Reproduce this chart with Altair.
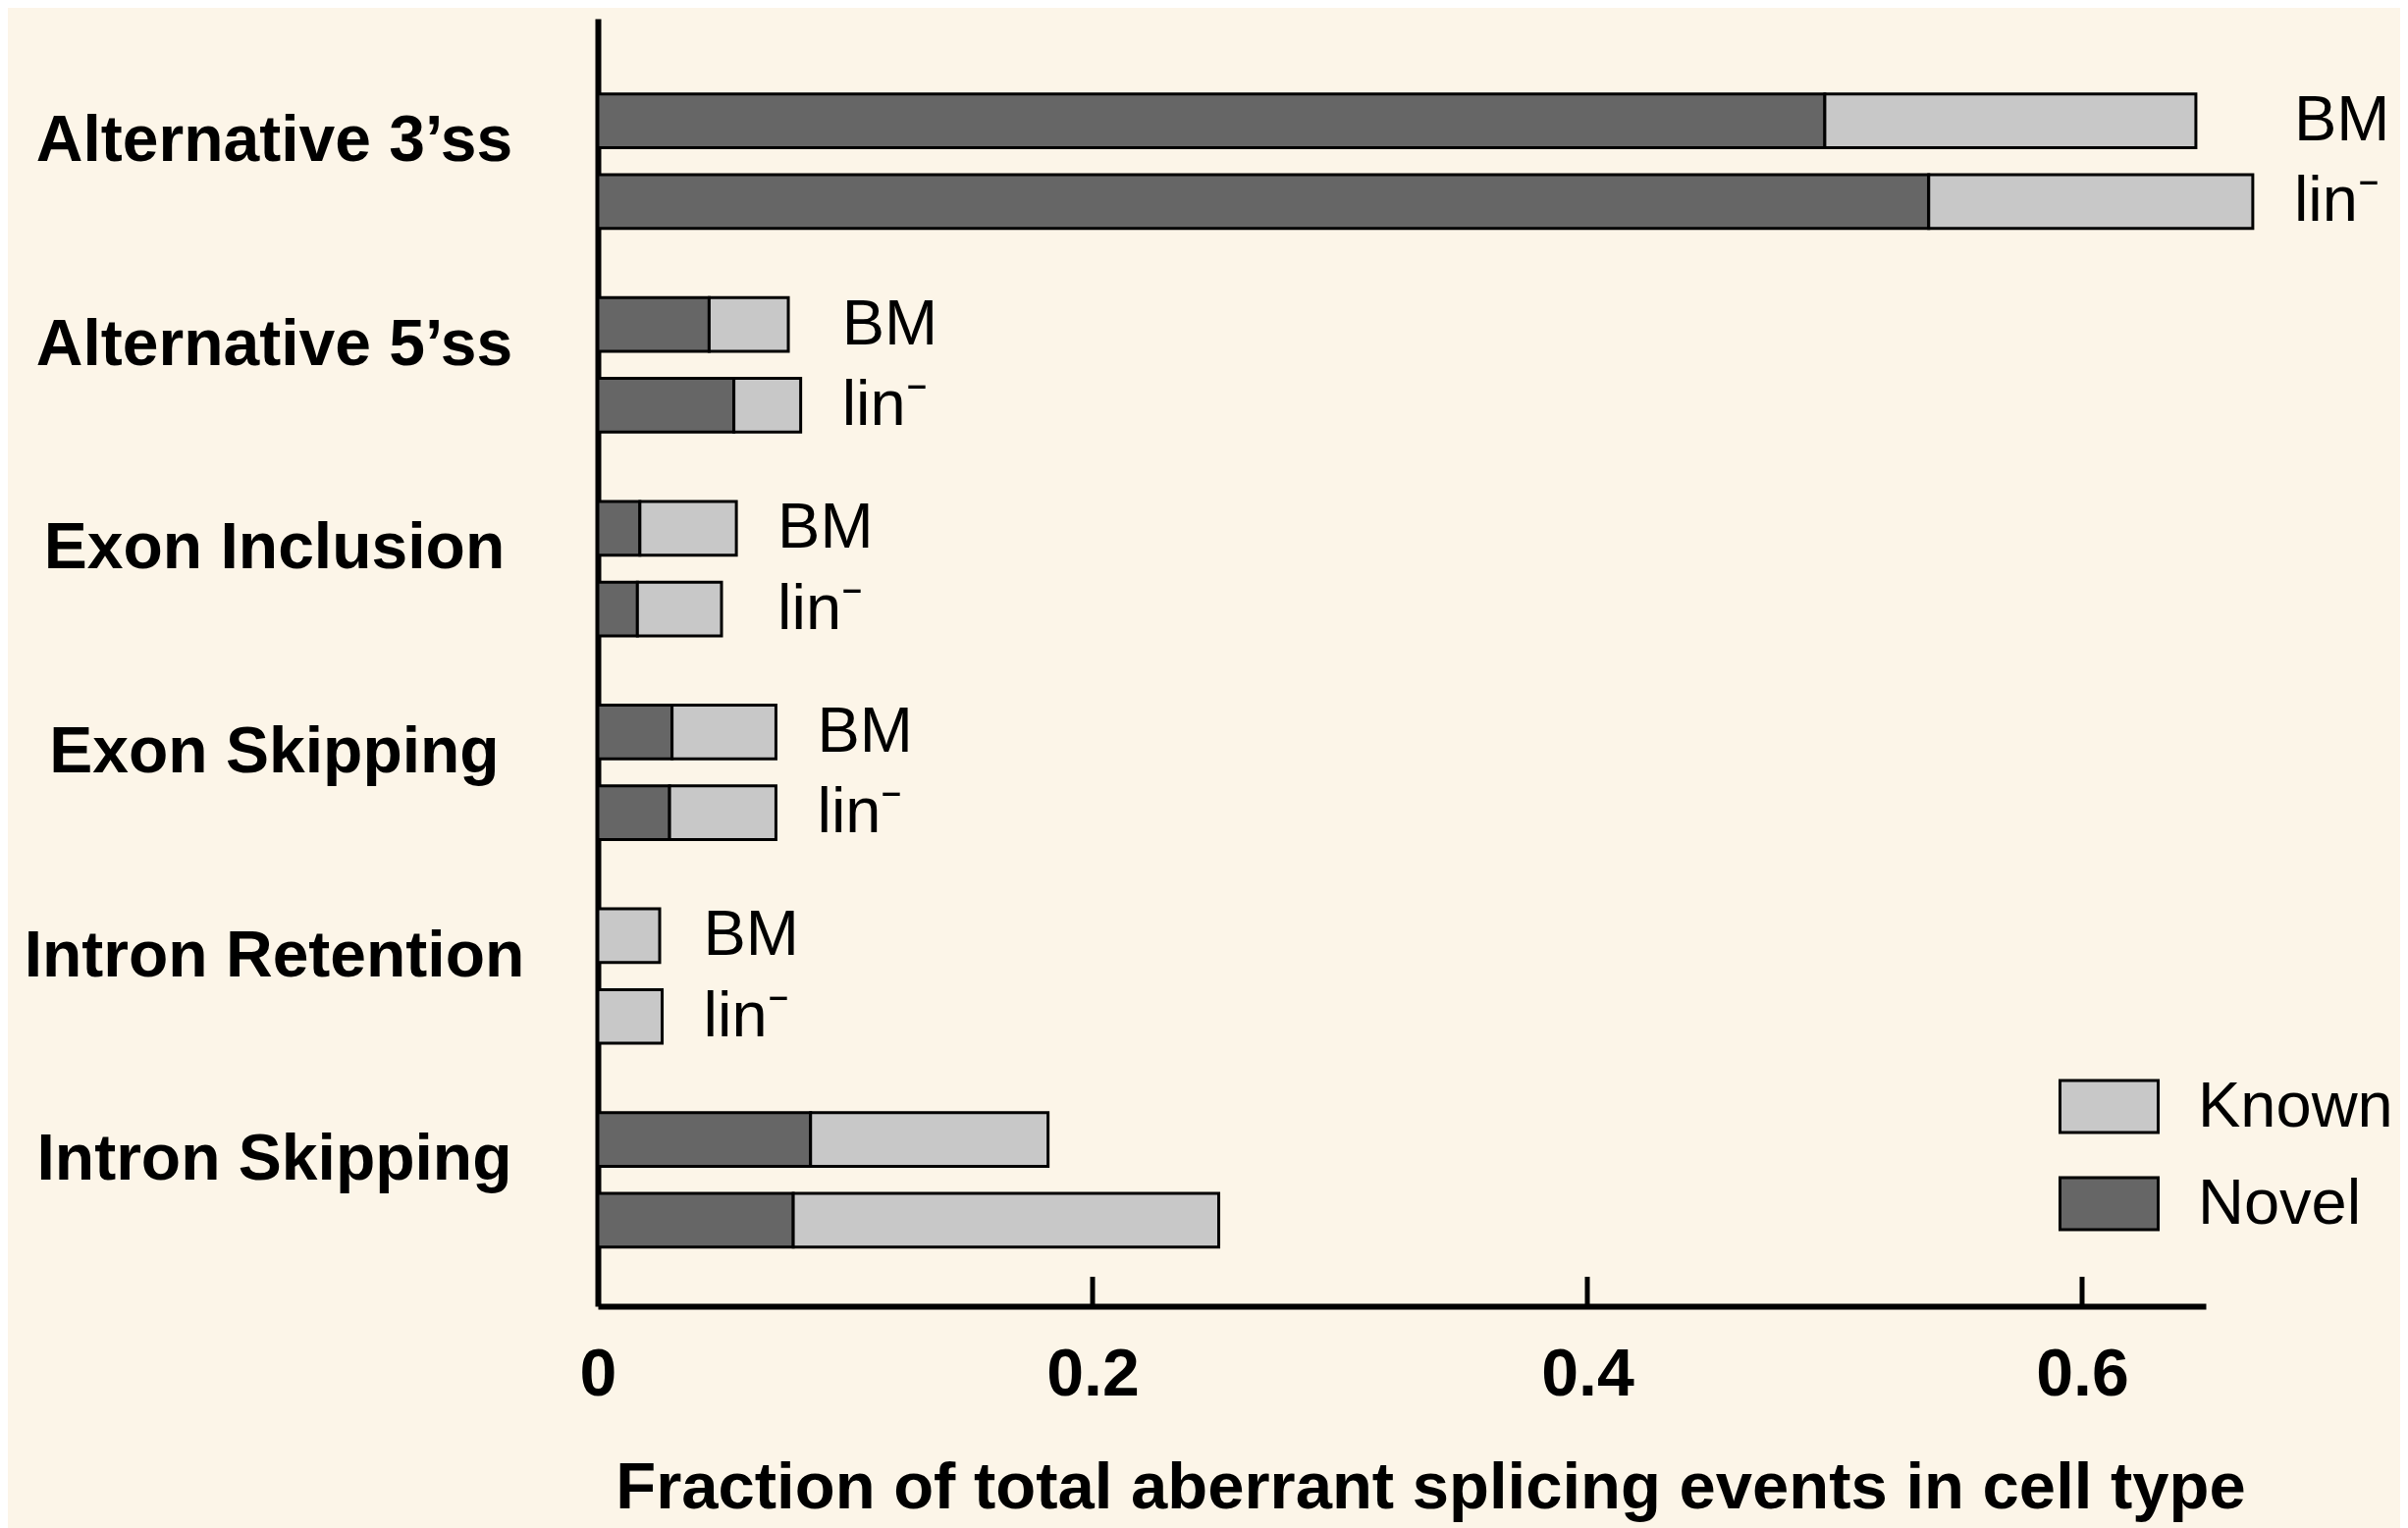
import altair as alt
import pandas as pd

categories = ["Alternative 3’ss", "Alternative 5’ss", "Exon Inclusion",
              "Exon Skipping", "Intron Retention", "Intron Skipping"]
cells = ["BM", "lin⁻"]
types = ["Known", "Novel"]

novel_bm = [0.496, 0.045, 0.017, 0.030, 0.0, 0.086]
known_bm = [0.150, 0.032, 0.039, 0.042, 0.025, 0.096]
novel_lin = [0.538, 0.055, 0.016, 0.029, 0.0, 0.079]
known_lin = [0.131, 0.027, 0.034, 0.043, 0.026, 0.172]

labelled = ["Alternative 3’ss", "Alternative 5’ss", "Exon Inclusion",
            "Exon Skipping", "Intron Retention"]
tick_values = [0.2, 0.4, 0.6]

rows = []
for i, c in enumerate(categories):
    for cell, nov, kn in ((cells[0], novel_bm, known_bm), (cells[1], novel_lin, known_lin)):
        rows.append({"category": c, "cell": cell, "type": "Novel", "value": nov[i], "ord": 0})
        rows.append({"category": c, "cell": cell, "type": "Known", "value": kn[i], "ord": 1})
df = pd.DataFrame(rows)

lab_rows = []
for i, c in enumerate(categories):
    if c in labelled:
        lab_rows.append({"category": c, "cell": cells[0], "total": novel_bm[i] + known_bm[i]})
        lab_rows.append({"category": c, "cell": cells[1], "total": novel_lin[i] + known_lin[i]})
lab_df = pd.DataFrame(lab_rows)

tick_df = pd.DataFrame({"v": tick_values})

W, H = 1638, 1312
FONT = "Liberation Sans"

xscale = alt.Scale(domain=[0, 0.65], nice=False, zero=True)
yscale = alt.Scale(domain=categories, paddingInner=0.34, paddingOuter=0.33, align=0.56)
yoff = alt.YOffset("cell:N", sort=cells, scale=alt.Scale(domain=cells, paddingInner=0.335, paddingOuter=0))

bars = alt.Chart(df).mark_bar(stroke="black", strokeWidth=3).encode(
    x=alt.X("value:Q", stack="zero", scale=xscale,
            axis=alt.Axis(values=[0, 0.2, 0.4, 0.6], format="~g", grid=False, ticks=False, tickSize=0,
                          domainColor="black", domainWidth=6, labelFlush=False,
                          labelFont=FONT, labelFontSize=68, labelFontWeight="bold", labelColor="black",
                          labelPadding=90, labelBaseline="alphabetic",
                          title="Fraction of total aberrant splicing events in cell type",
                          titleFont=FONT, titleFontSize=67, titleFontWeight="bold", titleColor="black",
                          titleX=848, titleY=205, titleBaseline="alphabetic", titleAlign="center")),
    y=alt.Y("category:N", sort=categories, scale=yscale,
            axis=alt.Axis(title=None, ticks=False, tickSize=0, grid=False,
                          domainColor="black", domainWidth=6,
                          labelFont=FONT, labelFontSize=66, labelFontWeight="bold", labelColor="black",
                          labelAlign="center", labelBaseline="middle", labelPadding=330, labelOffset=-20,
                          labelLimit=1000)),
    yOffset=yoff,
    color=alt.Color("type:N", scale=alt.Scale(domain=types, range=["#c8c8c8", "#666666"]),
                    legend=alt.Legend(title=None, orient="none", legendX=1507, legendY=1076,
                                      symbolType="M-1.887,-1L1.887,-1L1.887,1L-1.887,1Z",
                                      symbolSize=2809, symbolStrokeColor="black", symbolStrokeWidth=3,
                                      symbolOpacity=1, labelLimit=500,
                                      labelFont=FONT, labelFontSize=65, labelColor="black",
                                      labelOffset=58, rowPadding=33, padding=0)),
    order=alt.Order("ord:Q"),
)

labels = alt.Chart(lab_df).transform_joinaggregate(
    gmax="max(total)", groupby=["category"]
).mark_text(align="left", baseline="middle", dx=42, font=FONT, fontSize=65, color="black").encode(
    x=alt.X("gmax:Q", scale=xscale),
    y=alt.Y("category:N", sort=categories, scale=yscale),
    yOffset=yoff,
    text="cell:N",
)

ticks = alt.Chart(tick_df).mark_rule(color="black", strokeWidth=5).encode(
    x=alt.X("v:Q", scale=xscale),
    y=alt.value(H - 30),
    y2=alt.value(H),
)

chart = alt.layer(bars, labels, ticks).properties(
    width=W, height=H,
    autosize=alt.AutoSizeParams(type="none"),
    padding={"left": 601, "top": 11, "right": 198, "bottom": 228},
    background="#fcf5e8",
).configure_view(stroke=None)

chart.save("out.html", embed_options={"renderer": "svg", "actions": False})
